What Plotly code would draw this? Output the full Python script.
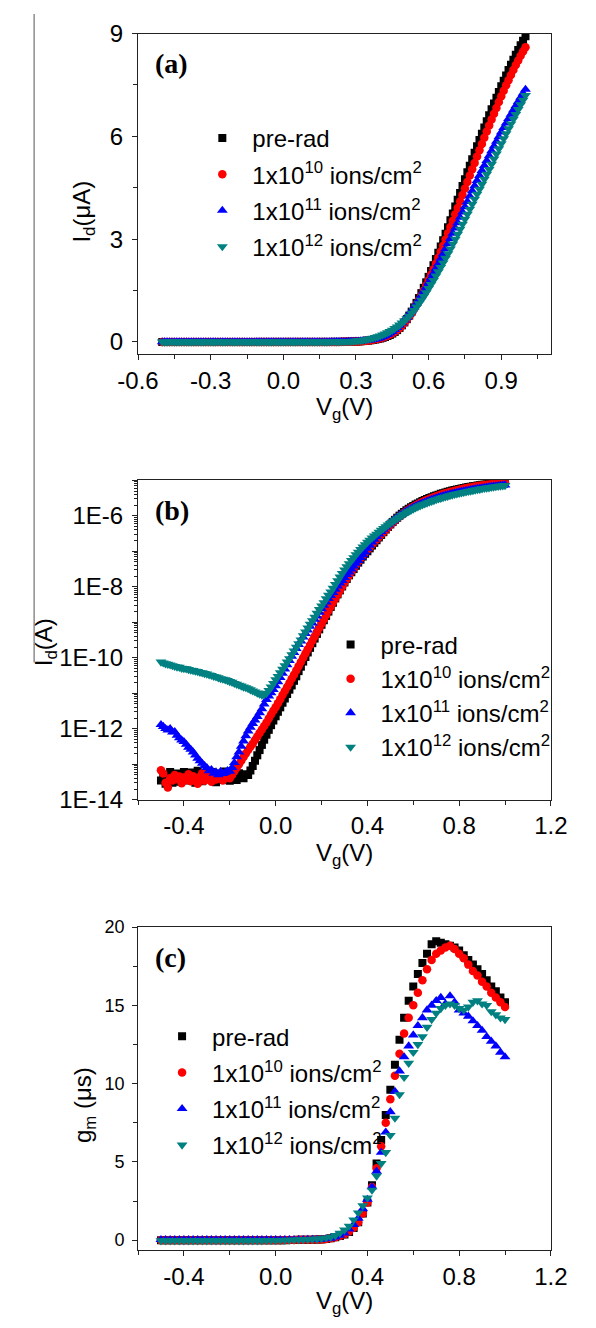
import plotly.graph_objects as go

# ---------------- data ----------------
# gate voltage sweep for panels (a) and (b)  [V]
VG_AB = [
    -0.50, -0.49, -0.48, -0.47, -0.46, -0.45, -0.44, -0.43, -0.42, -0.41,
    -0.40, -0.39, -0.38, -0.37, -0.36, -0.35, -0.34, -0.33, -0.32, -0.31,
    -0.30, -0.29, -0.28, -0.27, -0.26, -0.25, -0.24, -0.23, -0.22, -0.21,
    -0.20, -0.19, -0.18, -0.17, -0.16, -0.15, -0.14, -0.13, -0.12, -0.11,
    -0.10, -0.09, -0.08, -0.07, -0.06, -0.05, -0.04, -0.03, -0.02, -0.01,
    0.00, 0.01, 0.02, 0.03, 0.04, 0.05, 0.06, 0.07, 0.08, 0.09,
    0.10, 0.11, 0.12, 0.13, 0.14, 0.15, 0.16, 0.17, 0.18, 0.19,
    0.20, 0.21, 0.22, 0.23, 0.24, 0.25, 0.26, 0.27, 0.28, 0.29,
    0.30, 0.31, 0.32, 0.33, 0.34, 0.35, 0.36, 0.37, 0.38, 0.39,
    0.40, 0.41, 0.42, 0.43, 0.44, 0.45, 0.46, 0.47, 0.48, 0.49,
    0.50, 0.51, 0.52, 0.53, 0.54, 0.55, 0.56, 0.57, 0.58, 0.59,
    0.60, 0.61, 0.62, 0.63, 0.64, 0.65, 0.66, 0.67, 0.68, 0.69,
    0.70, 0.71, 0.72, 0.73, 0.74, 0.75, 0.76, 0.77, 0.78, 0.79,
    0.80, 0.81, 0.82, 0.83, 0.84, 0.85, 0.86, 0.87, 0.88, 0.89,
    0.90, 0.91, 0.92, 0.93, 0.94, 0.95, 0.96, 0.97, 0.98, 0.99,
    1.00,
]

# drain current [A]
ID_PRE = [
    3.5e-14, 5.0e-14, 2.8e-14, 4.5e-14, 6.0e-14, 3.0e-14, 4.0e-14, 5.5e-14, 3.2e-14, 4.8e-14,
    6.0e-14, 4.2e-14, 3.5e-14, 5.8e-14, 4.0e-14, 3.0e-14, 6.5e-14, 5.0e-14, 3.3e-14, 4.5e-14,
    5.2e-14, 3.8e-14, 6.0e-14, 4.4e-14, 3.1e-14, 5.5e-14, 4.7e-14, 3.6e-14, 6.2e-14, 4.0e-14,
    3.4e-14, 5.0e-14, 4.2e-14, 3.6e-14, 5.6e-14, 4.5e-14, 4.0e-14, 5.2e-14, 5.0e-14, 6.6e-14,
    8.9e-14, 1.26e-13, 1.78e-13, 2.5e-13, 3.5e-13, 4.9e-13, 6.8e-13, 9.3e-13, 1.26e-12, 1.7e-12,
    2.24e-12, 3.0e-12, 4.0e-12, 5.4e-12, 7.1e-12, 9.5e-12, 1.26e-11, 1.66e-11, 2.24e-11, 3.0e-11,
    4.2e-11, 5.6e-11, 7.8e-11, 1.05e-10, 1.41e-10, 1.9e-10, 2.57e-10, 3.47e-10, 4.7e-10, 6.3e-10,
    8.5e-10, 1.14e-9, 1.51e-9, 2.0e-9, 2.7e-9, 3.55e-9, 4.7e-9, 6.1e-9, 7.9e-9, 1.02e-8,
    1.32e-8, 1.66e-8, 2.1e-8, 2.57e-8, 3.16e-8, 3.9e-8, 4.8e-8, 5.8e-8, 7.1e-8, 8.5e-8,
    1.00e-7, 1.21e-7, 1.45e-7, 1.73e-7, 2.05e-7, 2.45e-7, 2.90e-7, 3.45e-7, 4.10e-7, 4.85e-7,
    5.70e-7, 6.65e-7, 7.70e-7, 8.85e-7, 1.010e-6, 1.140e-6, 1.280e-6, 1.425e-6, 1.580e-6, 1.740e-6,
    1.900e-6, 2.070e-6, 2.240e-6, 2.420e-6, 2.600e-6, 2.785e-6, 2.970e-6, 3.160e-6, 3.350e-6, 3.550e-6,
    3.750e-6, 3.950e-6, 4.150e-6, 4.350e-6, 4.550e-6, 4.750e-6, 4.950e-6, 5.140e-6, 5.330e-6, 5.520e-6,
    5.710e-6, 5.895e-6, 6.080e-6, 6.260e-6, 6.440e-6, 6.615e-6, 6.790e-6, 6.960e-6, 7.130e-6, 7.295e-6,
    7.460e-6, 7.620e-6, 7.780e-6, 7.935e-6, 8.090e-6, 8.235e-6, 8.380e-6, 8.520e-6, 8.660e-6, 8.790e-6,
    8.920e-6,
]
ID_E10 = [
    6.8e-14, 5.5e-14, 3.0e-14, 2.2e-14, 4.0e-14, 3.5e-14, 5.0e-14, 3.8e-14, 4.5e-14, 2.9e-14,
    4.2e-14, 3.6e-14, 5.2e-14, 3.3e-14, 4.6e-14, 3.9e-14, 2.8e-14, 4.4e-14, 5.6e-14, 3.4e-14,
    4.1e-14, 4.9e-14, 3.2e-14, 4.5e-14, 3.7e-14, 5.3e-14, 4.0e-14, 3.5e-14, 4.8e-14, 4.2e-14,
    4.0e-14, 5.0e-14, 6.3e-14, 8.0e-14, 1.0e-13, 1.26e-13, 1.6e-13, 2.0e-13, 2.5e-13, 3.1e-13,
    3.8e-13, 4.8e-13, 6.0e-13, 7.6e-13, 9.5e-13, 1.2e-12, 1.5e-12, 1.95e-12, 2.5e-12, 3.2e-12,
    4.0e-12, 5.2e-12, 6.8e-12, 8.9e-12, 1.15e-11, 1.5e-11, 1.95e-11, 2.55e-11, 3.3e-11, 4.4e-11,
    5.8e-11, 7.6e-11, 1.0e-10, 1.32e-10, 1.74e-10, 2.3e-10, 3.0e-10, 3.95e-10, 5.2e-10, 6.9e-10,
    9.1e-10, 1.2e-9, 1.6e-9, 2.1e-9, 2.75e-9, 3.6e-9, 4.7e-9, 6.1e-9, 7.9e-9, 1.02e-8,
    1.32e-8, 1.67e-8, 2.1e-8, 2.65e-8, 3.35e-8, 4.2e-8, 5.2e-8, 6.4e-8, 7.8e-8, 9.3e-8,
    1.10e-7, 1.31e-7, 1.55e-7, 1.83e-7, 2.15e-7, 2.55e-7, 3.00e-7, 3.52e-7, 4.10e-7, 4.80e-7,
    5.60e-7, 6.50e-7, 7.50e-7, 8.55e-7, 9.70e-7, 1.090e-6, 1.220e-6, 1.355e-6, 1.500e-6, 1.650e-6,
    1.800e-6, 1.960e-6, 2.120e-6, 2.290e-6, 2.460e-6, 2.635e-6, 2.810e-6, 2.990e-6, 3.170e-6, 3.355e-6,
    3.540e-6, 3.725e-6, 3.910e-6, 4.100e-6, 4.290e-6, 4.480e-6, 4.670e-6, 4.855e-6, 5.040e-6, 5.225e-6,
    5.410e-6, 5.595e-6, 5.780e-6, 5.960e-6, 6.140e-6, 6.315e-6, 6.490e-6, 6.660e-6, 6.830e-6, 7.000e-6,
    7.170e-6, 7.330e-6, 7.490e-6, 7.640e-6, 7.790e-6, 7.935e-6, 8.080e-6, 8.215e-6, 8.350e-6, 8.475e-6,
    8.600e-6,
]
ID_E11 = [
    1.3e-12, 1.15e-12, 1.0e-12, 9.2e-13, 1.0e-12, 8.0e-13, 8.2e-13, 6.5e-13, 5.5e-13, 4.8e-13,
    4.3e-13, 3.6e-13, 3.0e-13, 2.6e-13, 2.2e-13, 1.8e-13, 1.45e-13, 1.25e-13, 1.05e-13, 9.0e-14,
    8.0e-14, 6.5e-14, 7.0e-14, 5.5e-14, 6.0e-14, 5.0e-14, 6.2e-14, 5.4e-14, 5.8e-14, 6.5e-14,
    6.3e-14, 8.0e-14, 1.1e-13, 1.6e-13, 2.2e-13, 3.2e-13, 4.5e-13, 6.3e-13, 8.5e-13, 1.1e-12,
    1.4e-12, 1.74e-12, 2.2e-12, 2.8e-12, 3.6e-12, 4.9e-12, 6.6e-12, 8.3e-12, 1.02e-11, 1.26e-11,
    1.6e-11, 2.1e-11, 2.75e-11, 3.6e-11, 4.8e-11, 6.3e-11, 8.3e-11, 1.1e-10, 1.4e-10, 1.8e-10,
    2.35e-10, 2.95e-10, 3.8e-10, 4.8e-10, 6.0e-10, 7.6e-10, 9.5e-10, 1.2e-9, 1.5e-9, 1.9e-9,
    2.4e-9, 3.0e-9, 3.7e-9, 4.6e-9, 5.6e-9, 6.9e-9, 8.5e-9, 1.05e-8, 1.26e-8, 1.5e-8,
    1.8e-8, 2.2e-8, 2.6e-8, 3.15e-8, 3.8e-8, 4.55e-8, 5.5e-8, 6.6e-8, 7.9e-8, 9.5e-8,
    1.20e-7, 1.48e-7, 1.80e-7, 2.17e-7, 2.58e-7, 3.05e-7, 3.58e-7, 4.18e-7, 4.83e-7, 5.55e-7,
    6.34e-7, 7.20e-7, 8.11e-7, 9.10e-7, 1.014e-6, 1.124e-6, 1.239e-6, 1.358e-6, 1.480e-6, 1.606e-6,
    1.735e-6, 1.868e-6, 2.003e-6, 2.141e-6, 2.282e-6, 2.425e-6, 2.571e-6, 2.719e-6, 2.868e-6, 3.019e-6,
    3.171e-6, 3.325e-6, 3.479e-6, 3.634e-6, 3.788e-6, 3.943e-6, 4.098e-6, 4.253e-6, 4.407e-6, 4.559e-6,
    4.709e-6, 4.857e-6, 5.003e-6, 5.148e-6, 5.291e-6, 5.433e-6, 5.574e-6, 5.713e-6, 5.851e-6, 5.987e-6,
    6.122e-6, 6.255e-6, 6.386e-6, 6.515e-6, 6.643e-6, 6.769e-6, 6.894e-6, 7.017e-6, 7.138e-6, 7.257e-6,
    7.370e-6,
]
ID_E12 = [
    7.6e-11, 7.2e-11, 6.8e-11, 6.6e-11, 6.3e-11, 6.0e-11, 5.75e-11, 5.5e-11, 5.4e-11, 5.1e-11,
    5.0e-11, 4.9e-11, 4.7e-11, 4.5e-11, 4.4e-11, 4.2e-11, 4.1e-11, 3.9e-11, 3.8e-11, 3.6e-11,
    3.5e-11, 3.3e-11, 3.2e-11, 3.0e-11, 2.9e-11, 2.75e-11, 2.6e-11, 2.5e-11, 2.4e-11, 2.3e-11,
    2.15e-11, 2.05e-11, 1.9e-11, 1.8e-11, 1.7e-11, 1.6e-11, 1.5e-11, 1.45e-11, 1.35e-11, 1.26e-11,
    1.17e-11, 1.1e-11, 1.02e-11, 9.5e-12, 8.9e-12, 9.1e-12, 1.0e-11, 1.2e-11, 1.5e-11, 1.9e-11,
    2.4e-11, 3.0e-11, 3.8e-11, 4.8e-11, 6.0e-11, 7.6e-11, 9.5e-11, 1.23e-10, 1.55e-10, 2.0e-10,
    2.5e-10, 3.2e-10, 4.2e-10, 5.4e-10, 6.9e-10, 8.9e-10, 1.12e-9, 1.4e-9, 1.8e-9, 2.3e-9,
    2.9e-9, 3.6e-9, 4.6e-9, 5.8e-9, 7.2e-9, 9.1e-9, 1.17e-8, 1.48e-8, 1.9e-8, 2.4e-8,
    3.0e-8, 3.7e-8, 4.5e-8, 5.5e-8, 6.6e-8, 8.0e-8, 9.5e-8, 1.13e-7, 1.33e-7, 1.55e-7,
    1.80e-7, 2.07e-7, 2.37e-7, 2.70e-7, 3.07e-7, 3.48e-7, 3.93e-7, 4.42e-7, 4.95e-7, 5.53e-7,
    6.15e-7, 6.83e-7, 7.57e-7, 8.38e-7, 9.25e-7, 1.020e-6, 1.120e-6, 1.224e-6, 1.330e-6, 1.443e-6,
    1.560e-6, 1.680e-6, 1.800e-6, 1.925e-6, 2.050e-6, 2.180e-6, 2.310e-6, 2.445e-6, 2.580e-6, 2.720e-6,
    2.860e-6, 3.000e-6, 3.145e-6, 3.290e-6, 3.440e-6, 3.585e-6, 3.730e-6, 3.880e-6, 4.025e-6, 4.170e-6,
    4.315e-6, 4.460e-6, 4.605e-6, 4.750e-6, 4.895e-6, 5.040e-6, 5.190e-6, 5.340e-6, 5.490e-6, 5.640e-6,
    5.785e-6, 5.935e-6, 6.080e-6, 6.225e-6, 6.365e-6, 6.505e-6, 6.645e-6, 6.785e-6, 6.925e-6, 7.060e-6,
    7.200e-6,
]

# gate voltage for transconductance panel (c)  [V]
VG_C = [
    -0.50, -0.48, -0.46, -0.44, -0.42, -0.40, -0.38, -0.36, -0.34, -0.32,
    -0.30, -0.28, -0.26, -0.24, -0.22, -0.20, -0.18, -0.16, -0.14, -0.12,
    -0.10, -0.08, -0.06, -0.04, -0.02, 0.00, 0.02, 0.04, 0.06, 0.08,
    0.10, 0.12, 0.14, 0.16, 0.18, 0.20, 0.22, 0.24, 0.26, 0.28,
    0.30, 0.32, 0.34, 0.36, 0.38, 0.40, 0.42, 0.44, 0.46, 0.48,
    0.50, 0.52, 0.54, 0.56, 0.58, 0.60, 0.62, 0.64, 0.66, 0.68,
    0.70, 0.72, 0.74, 0.76, 0.78, 0.80, 0.82, 0.84, 0.86, 0.88,
    0.90, 0.92, 0.94, 0.96, 0.98, 1.00,
]
# transconductance [uS]
GM_PRE = [
    0.0, 0.0, 0.0, 0.0, 0.0, 0.0, 0.0, 0.0, 0.0, 0.0,
    0.0, 0.0, 0.0, 0.0, 0.0, 0.0, 0.0, 0.0, 0.0, 0.0,
    0.0, 0.0, 0.0, 0.0, 0.0, 0.0, 0.0, 0.0, 0.01, 0.01,
    0.02, 0.02, 0.03, 0.03, 0.04, 0.05, 0.08, 0.12, 0.18, 0.26,
    0.36, 0.52, 0.78, 1.15, 1.7, 2.4, 3.5, 4.9, 6.4, 8.0,
    9.6, 11.2, 12.8, 14.2, 15.3, 16.2, 17.0, 17.7, 18.3, 18.9,
    19.1, 19.0, 18.9, 18.8, 18.7, 18.5, 18.2, 17.9, 17.6, 17.3,
    17.0, 16.6, 16.2, 15.9, 15.5, 15.2,
]
GM_E10 = [
    0.0, 0.0, 0.0, 0.0, 0.0, 0.0, 0.0, 0.0, 0.0, 0.0,
    0.0, 0.0, 0.0, 0.0, 0.0, 0.0, 0.0, 0.0, 0.0, 0.0,
    0.0, 0.0, 0.0, 0.0, 0.0, 0.0, 0.0, 0.01, 0.01, 0.01,
    0.02, 0.02, 0.03, 0.03, 0.04, 0.05, 0.08, 0.12, 0.18, 0.26,
    0.38, 0.55, 0.8, 1.15, 1.7, 2.4, 3.4, 4.6, 6.0, 7.5,
    9.0, 10.5, 11.9, 13.2, 14.2, 15.0, 15.8, 16.6, 17.3, 17.9,
    18.3, 18.5, 18.7, 18.8, 18.6, 18.3, 18.0, 17.6, 17.2, 16.9,
    16.5, 16.2, 15.8, 15.5, 15.2, 14.9,
]
GM_E11 = [
    0.03, 0.03, 0.03, 0.03, 0.03, 0.03, 0.03, 0.03, 0.03, 0.03,
    0.03, 0.03, 0.03, 0.03, 0.03, 0.03, 0.03, 0.03, 0.03, 0.03,
    0.03, 0.03, 0.03, 0.03, 0.03, 0.03, 0.03, 0.03, 0.03, 0.03,
    0.03, 0.03, 0.04, 0.04, 0.04, 0.05, 0.08, 0.12, 0.2, 0.3,
    0.45, 0.7, 1.0, 1.4, 2.0, 2.6, 3.4, 4.4, 5.6, 6.9,
    8.2, 9.5, 10.8, 11.7, 12.4, 13.1, 13.7, 14.2, 14.7, 15.0,
    15.3, 15.5, 15.1, 15.6, 15.2, 14.7, 14.5, 14.3, 14.0, 13.7,
    13.4, 13.0, 12.7, 12.4, 12.0, 11.7,
]
GM_E12 = [
    -0.03, -0.03, -0.03, -0.03, -0.03, -0.03, -0.03, -0.03, -0.03, -0.03,
    -0.03, -0.03, -0.03, -0.03, -0.03, -0.03, -0.03, -0.03, -0.03, -0.03,
    -0.03, -0.03, -0.03, -0.02, -0.02, -0.02, -0.01, 0.0, 0.01, 0.02,
    0.03, 0.04, 0.05, 0.06, 0.08, 0.1, 0.15, 0.2, 0.3, 0.45,
    0.65, 0.9, 1.3, 1.75, 2.2, 2.7, 3.2, 4.1, 4.9, 5.6,
    6.7, 7.8, 9.3, 10.4, 11.3, 12.0, 12.5, 13.0, 13.6, 14.1,
    14.5, 14.8, 15.0, 15.1, 15.0, 14.8, 14.7, 14.9, 15.2, 15.3,
    15.1, 15.0, 14.6, 14.4, 14.2, 14.1,
]

SERIES_NAMES = [
    "pre-rad",
    "1x10<sup>10</sup> ions/cm<sup>2</sup>",
    "1x10<sup>11</sup> ions/cm<sup>2</sup>",
    "1x10<sup>12</sup> ions/cm<sup>2</sup>",
]

# tick positions / labels
XA_TICKS = [-0.6, -0.3, 0.0, 0.3, 0.6, 0.9]
XA_TEXT = ["-0.6", "-0.3", "0.0", "0.3", "0.6", "0.9"]
XA_MINOR = [-0.45, -0.15, 0.15, 0.45, 0.75, 1.05]
YA_TICKS = [0, 3, 6, 9]
YA_TEXT = ["0", "3", "6", "9"]
YA_MINOR = [1.5, 4.5, 7.5]
XBC_TICKS = [-0.4, 0.0, 0.4, 0.8, 1.2]
XBC_TEXT = ["-0.4", "0.0", "0.4", "0.8", "1.2"]
XBC_MINOR = [-0.6, -0.2, 0.2, 0.6, 1.0]
YB_TICKS = [1e-14, 1e-13, 1e-12, 1e-11, 1e-10, 1e-9, 1e-8, 1e-7, 1e-6, 1e-5]
YB_TEXT = ["1E-14", "", "1E-12", "", "1E-10", "", "1E-8", "", "1E-6", ""]
YC_TICKS = [0, 5, 10, 15, 20]
YC_TEXT = ["0", "5", "10", "15", "20"]
YC_MINOR = [2.5, 7.5, 12.5, 17.5]

assert all(len(s) == len(VG_AB) for s in (ID_PRE, ID_E10, ID_E11, ID_E12))
assert all(len(s) == len(VG_C) for s in (GM_PRE, GM_E10, GM_E11, GM_E12))

# ---------------- styling ----------------
W, H = 596, 1328
FONT = "Liberation Sans, Arial, sans-serif"
SERIF = "Liberation Serif, Times New Roman, serif"
COLORS = ["#000000", "#ff0000", "#0000ff", "#008080"]
SYMBOLS = ["square", "circle", "triangle-up", "triangle-down"]
MSIZES = [8, 8.5, 9.5, 9.5]
XTICKFONT = dict(family=FONT, size=24, color="#000")
YTICKFONT = dict(family=FONT, size=24, color="#000")
YTICKFONT_C = dict(family=FONT, size=18, color="#000")
AXC = "#222"


def fx(p):
    return p / W


def fy(p):
    return 1 - p / H


fig = go.Figure()

ID_SETS = [ID_PRE, ID_E10, ID_E11, ID_E12]
GM_SETS = [GM_PRE, GM_E10, GM_E11, GM_E12]


def mk(i):
    return dict(symbol=SYMBOLS[i], color=COLORS[i], size=MSIZES[i], line=dict(width=0))


for i in range(4):
    fig.add_trace(go.Scatter(
        x=VG_AB, y=[v * 1e6 for v in ID_SETS[i]], mode="markers",
        name=SERIES_NAMES[i], legend="legend", legendgroup="a%d" % i,
        marker=mk(i), xaxis="x", yaxis="y"))
for i in range(4):
    fig.add_trace(go.Scatter(
        x=VG_AB, y=ID_SETS[i], mode="markers",
        name=SERIES_NAMES[i], legend="legend2",
        marker=mk(i), xaxis="x2", yaxis="y2"))
for i in range(4):
    fig.add_trace(go.Scatter(
        x=VG_C, y=GM_SETS[i], mode="markers",
        name=SERIES_NAMES[i], legend="legend3", legendgroup="c%d" % i,
        marker=mk(i), xaxis="x3", yaxis="y3"))


def axis(**kw):
    d = dict(showline=True, linecolor=AXC, linewidth=1, mirror=True,
             ticks="outside", ticklen=5, tickwidth=1, tickcolor=AXC,
             showgrid=False, zeroline=False, tickmode="array")
    d.update(kw)
    return d


def xaxis(**kw):
    return axis(tickfont=XTICKFONT, **kw)


def yaxis(font=YTICKFONT, **kw):
    return axis(tickfont=font, ticklabelstandoff=4, **kw)


XDOM = [fx(125), fx(566)]
PANEL_A = (20, 347)
PANEL_B = (476, 802)
PANEL_C = (932, 1262)

legend_common = dict(bgcolor="rgba(0,0,0,0)", borderwidth=0,
                     font=dict(family=FONT, size=24, color="#000"),
                     xanchor="left", yanchor="top", itemsizing="trace", itemwidth=50)

fig.update_layout(
    width=W, height=H,
    margin=dict(l=0, r=0, t=0, b=0),
    paper_bgcolor="white", plot_bgcolor="white",
    xaxis=xaxis(domain=XDOM, anchor="y", range=[-0.6, 1.105],
                tickvals=XA_TICKS, ticktext=XA_TEXT,
                minor=dict(tickvals=XA_MINOR, ticks="outside", ticklen=4, tickcolor=AXC)),
    yaxis=yaxis(domain=[fy(PANEL_A[1]), fy(PANEL_A[0])], anchor="x", range=[-0.35, 9],
                tickvals=YA_TICKS, ticktext=YA_TEXT,
                minor=dict(tickvals=YA_MINOR, ticks="outside", ticklen=4, tickcolor=AXC)),
    xaxis2=xaxis(domain=XDOM, anchor="y2", range=[-0.6, 1.2001],
                 tickvals=XBC_TICKS, ticktext=XBC_TEXT,
                 minor=dict(tickvals=XBC_MINOR, ticks="outside", ticklen=4, tickcolor=AXC)),
    yaxis2=yaxis(domain=[fy(PANEL_B[1]), fy(PANEL_B[0])], anchor="x2", type="log",
                 range=[-14, -5], tickvals=YB_TICKS, ticktext=YB_TEXT,
                 minor=dict(ticks="outside", ticklen=3, tickcolor=AXC, dtick="D1")),
    xaxis3=xaxis(domain=XDOM, anchor="y3", range=[-0.6, 1.2001],
                 tickvals=XBC_TICKS, ticktext=XBC_TEXT,
                 minor=dict(tickvals=XBC_MINOR, ticks="outside", ticklen=4, tickcolor=AXC)),
    yaxis3=yaxis(font=YTICKFONT_C, domain=[fy(PANEL_C[1]), fy(PANEL_C[0])], anchor="x3",
                 range=[-0.65, 20], tickvals=YC_TICKS, ticktext=YC_TEXT,
                 minor=dict(tickvals=YC_MINOR, ticks="outside", ticklen=4, tickcolor=AXC)),
    legend=dict(legend_common, x=fx(183), y=fy(104), tracegroupgap=2),
    legend2=dict(legend_common, x=fx(320), y=fy(621)),
    legend3=dict(legend_common, x=fx(140), y=fy(1021), tracegroupgap=2),
    showlegend=True,
)

TITLE_FONT = dict(family=FONT, size=24, color="#000")
LABEL_FONT = dict(family=SERIF, size=28, color="#000")
ann = []
# panel letters
for txt, yc in (("(a)", 51), ("(b)", 507), ("(c)", 963)):
    ann.append(dict(text="<b>%s</b>" % txt, x=fx(141), y=fy(yc), xref="paper", yref="paper",
                    xanchor="left", yanchor="middle", showarrow=False, font=LABEL_FONT))
# x titles (top edge of the text box)
for ytop in (385, 840, 1297):
    ann.append(dict(text="V<sub>g</sub>(V)", x=fx(345), y=fy(ytop), xref="paper", yref="paper",
                    xanchor="center", yanchor="top", showarrow=False, font=TITLE_FONT))
# y titles
for txt, xc, yc in (("I<sub>d</sub>(μA)", 67, 202), ("I<sub>d</sub>(A)", 27, 641),
                    ("g<sub>m</sub> (μs)", 68, 1114)):
    ann.append(dict(text=txt, x=fx(xc), y=fy(yc), xref="paper", yref="paper",
                    xanchor="center", yanchor="middle", textangle=-90, showarrow=False,
                    font=TITLE_FONT))
fig.update_layout(annotations=ann)

# thin border line at the left edge of the page
fig.add_shape(type="line", xref="paper", yref="paper", x0=fx(14), x1=fx(14),
              y0=1, y1=fy(662), line=dict(color="#555", width=1))

fig.write_html(
    "out.html",
    config={"displayModeBar": False},
    post_script="document.body.style.margin='0';document.documentElement.style.overflow='hidden';",
)
